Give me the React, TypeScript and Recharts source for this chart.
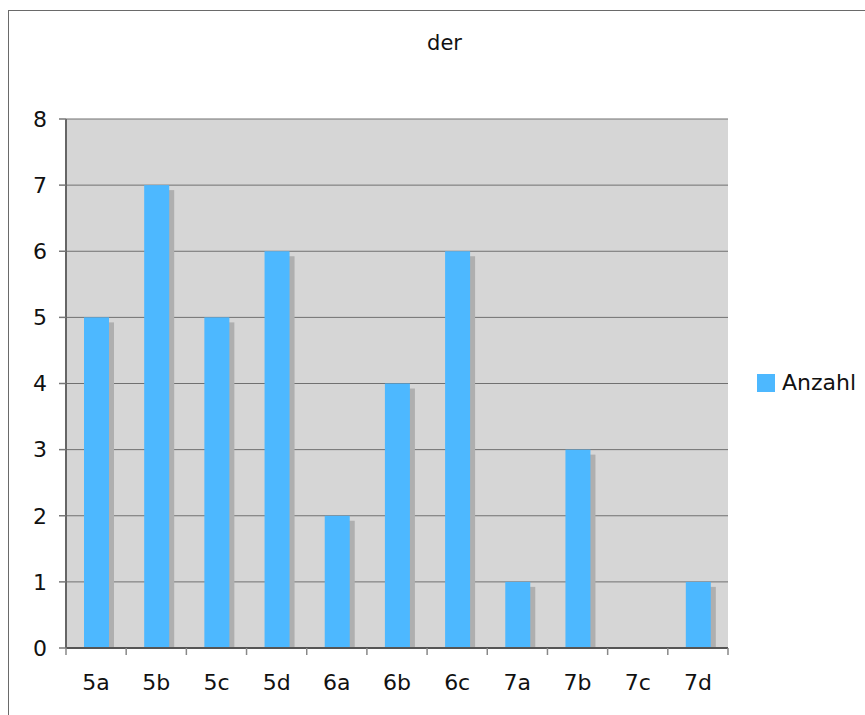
import React from "react";
import { BarChart, Bar, XAxis, YAxis, CartesianGrid } from "recharts";

const classes = ["5a", "5b", "5c", "5d", "6a", "6b", "6c", "7a", "7b", "7c", "7d"];
const anzahl = [5, 7, 5, 6, 2, 4, 6, 1, 3, 0, 1];
const yTicks = [0, 1, 2, 3, 4, 5, 6, 7, 8];
const seriesName = "Anzahl";
const title = "der";

const data = classes.map((c, i) => ({ name: c, value: anzahl[i] }));

const W = 865;
const H = 715;
const PLOT_LEFT = 66;
const PLOT_RIGHT = 728;
const PLOT_TOP = 119;
const PLOT_BOTTOM = 648;
const BAND = (PLOT_RIGHT - PLOT_LEFT) / classes.length;
const FONT = "'DejaVu Sans', Verdana, sans-serif";
const BLUE = "#4db8ff";
const FS = 22;

// bar with the flat grey drop shadow offset down-right
function ShadowBar(props: any) {
  const { x, y, width, height } = props;
  if (!height || height <= 0) return null;
  const d = 5;
  return (
    <g>
      <rect x={x + d} y={y + d} width={width} height={Math.max(0, height - d)} fill="#afafaf" />
      <rect x={x} y={y} width={width} height={height} fill={BLUE} />
    </g>
  );
}

function CatTick(props: any) {
  const { x, y, payload, index } = props;
  const half = BAND / 2;
  return (
    <g>
      <line x1={x - half} x2={x - half} y1={y} y2={y + 7} stroke="#888" strokeWidth={1.5} />
      {index === classes.length - 1 && (
        <line x1={x + half} x2={x + half} y1={y} y2={y + 7} stroke="#888" strokeWidth={1.5} />
      )}
      <text x={x} y={y + 42} textAnchor="middle" fill="#111" fontSize={FS} fontFamily={FONT}>
        {payload.value}
      </text>
    </g>
  );
}

export default function App() {
  return (
    <div style={{ position: "absolute", left: 0, top: 0, width: W, height: H, overflow: "hidden", background: "#fff" }}>
      <div
        style={{
          position: "absolute",
          left: 8,
          top: 10,
          width: W + 40,
          height: H + 40,
          borderLeft: "1.5px solid #6a6a6a",
          borderTop: "1.5px solid #6a6a6a",
        }}
      />
      <div
        style={{
          position: "absolute",
          left: 0,
          top: 31,
          width: 889,
          textAlign: "center",
          fontFamily: FONT,
          fontSize: 21,
          lineHeight: "25px",
          color: "#111",
        }}
      >
        {title}
      </div>
      <div style={{ position: "absolute", left: 0, top: 0 }}>
        <BarChart
          width={W}
          height={H}
          data={data}
          margin={{ top: PLOT_TOP, right: W - PLOT_RIGHT, bottom: H - PLOT_BOTTOM - 30, left: PLOT_LEFT - 50 }}
          barCategoryGap={0}
        >
          <CartesianGrid fill="#d6d6d6" stroke="#707070" vertical={false} />
          <XAxis
            dataKey="name"
            height={30}
            interval={0}
            tickSize={0}
            tickMargin={0}
            tickLine={false}
            axisLine={{ stroke: "#555", strokeWidth: 2 }}
            tick={<CatTick />}
          />
          <YAxis
            width={50}
            domain={[0, 8]}
            ticks={yTicks}
            interval={0}
            tickSize={7}
            tickMargin={12}
            tickLine={{ stroke: "#777", strokeWidth: 1.5 }}
            axisLine={{ stroke: "#666", strokeWidth: 2 }}
            tick={{ fill: "#111", fontSize: FS, fontFamily: FONT }}
          />
          <YAxis
            yAxisId="edge"
            orientation="right"
            width={0}
            domain={[0, 8]}
            tick={false}
            tickLine={false}
            axisLine={{ stroke: "#999", strokeWidth: 2.5 }}
          />
          <Bar dataKey="value" barSize={25} shape={<ShadowBar />} isAnimationActive={false} />
        </BarChart>
      </div>
      <div
        style={{
          position: "absolute",
          left: 757,
          top: 370,
          display: "flex",
          alignItems: "center",
          fontFamily: FONT,
          fontSize: FS,
          color: "#111",
        }}
      >
        <span style={{ display: "inline-block", width: 18, height: 18, background: BLUE, marginRight: 7 }} />
        <span>{seriesName}</span>
      </div>
    </div>
  );
}
